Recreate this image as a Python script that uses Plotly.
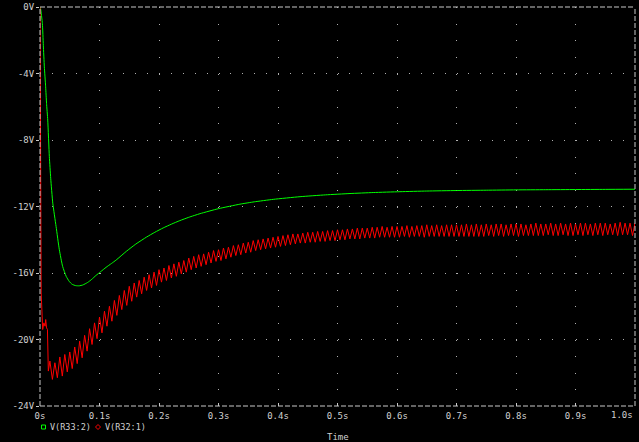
import plotly.graph_objects as go

# ---------------- data ----------------
x_tick_vals = [0, 0.1, 0.2, 0.3, 0.4, 0.5, 0.6, 0.7, 0.8, 0.9, 1.0]
x_tick_text = ["0s", "0.1s", "0.2s", "0.3s", "0.4s", "0.5s", "0.6s", "0.7s", "0.8s", "0.9s", "1.0s"]
y_tick_vals = [0, -4, -8, -12, -16, -20, -24]
y_tick_text = ["0V", "-4V", "-8V", "-12V", "-16V", "-20V", "-24V"]

series_names = ["V(R33:2)", "V(R32:1)"]

# V(R33:2) (green)
green_t = [0, 0.001, 0.004, 0.0056, 0.0073, 0.0095, 0.011, 0.013, 0.0157, 0.018, 0.0215,
           0.027, 0.0325, 0.038, 0.044, 0.049, 0.054, 0.06, 0.066, 0.072, 0.08, 0.087,
           0.094, 0.102, 0.111, 0.12, 0.128, 0.145, 0.161, 0.179, 0.193, 0.207, 0.221,
           0.235, 0.25, 0.269, 0.3, 0.336, 0.36, 0.392, 0.437, 0.48, 0.521, 0.56, 0.605,
           0.65, 0.7, 0.75, 0.8, 0.85, 0.9, 0.95, 1.0]
green_v = [0, -0.1, -1.0, -2.3, -3.6, -4.8, -5.8, -6.8, -9.0, -10.3, -11.8,
           -13.2, -14.6, -15.6, -16.2, -16.5, -16.68, -16.76, -16.77, -16.72, -16.57, -16.38,
           -16.15, -15.92, -15.66, -15.43, -15.22, -14.7, -14.26, -13.84, -13.55, -13.29, -13.06,
           -12.85, -12.65, -12.43, -12.13, -11.86, -11.72, -11.57, -11.41, -11.3, -11.22, -11.16, -11.11,
           -11.07, -11.04, -11.02, -11.0, -10.99, -10.98, -10.97, -10.96]

# V(R32:1) (red) - initial transient
red_start_t = [0, 0.0005, 0.002, 0.0045, 0.0065, 0.0085, 0.0096, 0.011, 0.0125, 0.014]
red_start_v = [0, -5.0, -17.2, -19.4, -19.0, -19.2, -18.8, -19.3, -19.4, -21.9]

# V(R32:1) ripple: peak / trough per 120 Hz cycle, starting at t = 2/120 s
red_cycle_period = 1 / 120
red_first_cycle = 2
red_peak = [
    -21.3, -21.4, -21.05, -20.9, -20.75, -20.45, -20.1, -19.75, -19.35, -19.0,
    -18.65, -18.3, -18.0, -17.65, -17.35, -17.05, -16.8, -16.6, -16.45, -16.25,
    -16.1, -15.95, -15.8, -15.7, -15.55, -15.45, -15.35, -15.25, -15.1, -15.0,
    -14.9, -14.85, -14.75, -14.65, -14.6, -14.5, -14.45, -14.35, -14.3, -14.2,
    -14.15, -14.05, -14.0, -13.95, -13.9, -13.85, -13.8, -13.75, -13.7, -13.65,
    -13.65, -13.6, -13.55, -13.55, -13.5, -13.5, -13.45, -13.45, -13.4, -13.4,
    -13.35, -13.35, -13.3, -13.3, -13.3, -13.25, -13.25, -13.2, -13.25, -13.2,
    -13.2, -13.2, -13.15, -13.2, -13.15, -13.15, -13.1, -13.15, -13.1, -13.15,
    -13.1, -13.1, -13.1, -13.1, -13.05, -13.1, -13.05, -13.1, -13.05, -13.1,
    -13.05, -13.05, -13.1, -13.05, -13.05, -13.05, -13.1, -13.05, -13.0, -13.05,
    -13.05, -13.0, -13.05, -13.0, -13.05, -13.0, -13.05, -13.0, -13.0, -13.05,
    -13.0, -13.0, -13.0, -13.05, -13.0, -12.95, -13.0, -13.0, -13.0]
red_trough = [
    -22.4, -22.3, -22.2, -21.95, -21.75, -21.45, -21.1, -20.7, -20.3, -19.95,
    -19.6, -19.2, -18.9, -18.55, -18.2, -17.95, -17.7, -17.45, -17.25, -17.05,
    -16.9, -16.75, -16.55, -16.45, -16.3, -16.2, -16.05, -15.95, -15.8, -15.7,
    -15.6, -15.5, -15.4, -15.3, -15.25, -15.15, -15.05, -14.95, -14.9, -14.8,
    -14.75, -14.65, -14.6, -14.55, -14.5, -14.45, -14.4, -14.35, -14.3, -14.25,
    -14.2, -14.2, -14.15, -14.15, -14.1, -14.1, -14.05, -14.05, -14.0, -14.0,
    -13.95, -13.95, -13.95, -13.9, -13.9, -13.9, -13.85, -13.85, -13.85, -13.85,
    -13.85, -13.8, -13.85, -13.8, -13.8, -13.85, -13.8, -13.8, -13.8, -13.8,
    -13.8, -13.8, -13.8, -13.8, -13.8, -13.8, -13.8, -13.8, -13.75, -13.8,
    -13.75, -13.8, -13.75, -13.75, -13.8, -13.75, -13.75, -13.75, -13.75, -13.75,
    -13.7, -13.75, -13.75, -13.7, -13.75, -13.75, -13.7, -13.75, -13.7, -13.75,
    -13.7, -13.75, -13.7, -13.7, -13.75, -13.7, -13.7, -13.75, -13.7]

# ---------------- build ----------------
red_t = list(red_start_t)
red_v = list(red_start_v)
for i, (hi, lo) in enumerate(zip(red_peak, red_trough)):
    t0 = (red_first_cycle + i) * red_cycle_period
    red_t += [t0, t0 + red_cycle_period / 2]
    red_v += [hi, lo]

W, H = 639, 442
L, R, T, B = 40, 4, 7, 36
PW, PH = W - L - R, H - T - B


def px(x):
    return (x - L) / PW


def py(y):
    return (H - B - y) / PH


FONT = "DejaVu Sans Mono"
TXT = "#d0d0d0"
GRID = "#b0b0b0"
FRAME = "#c8c8c8"

fig = go.Figure()
fig.add_trace(go.Scatter(x=green_t, y=green_v, mode="lines", name=series_names[0],
                         line=dict(color="#00ff00", width=1, shape="spline", smoothing=0.5),
                         showlegend=False))
fig.add_trace(go.Scatter(x=red_t, y=red_v, mode="lines", name=series_names[1],
                         line=dict(color="#ff0000", width=1), showlegend=False))

xt = list(x_tick_text)
xt[-1] = ""
fig.update_xaxes(range=[0, 1.0], tickvals=x_tick_vals, ticktext=xt,
                 showgrid=True, gridcolor=GRID, gridwidth=1, griddash="1px,15.625px",
                 zeroline=False, showline=False, ticks="inside", ticklen=3,
                 ticklabelstandoff=3,
                 tickcolor=FRAME, tickfont=dict(family=FONT, size=9, color=TXT),
                 automargin=False, fixedrange=True)
fig.update_yaxes(range=[-24, 0], tickvals=y_tick_vals, ticktext=y_tick_text,
                 showgrid=True, gridcolor=GRID, gridwidth=1, griddash="1px,10.9px",
                 zeroline=False, showline=False, ticks="outside", ticklen=3,
                 tickcolor=FRAME, tickfont=dict(family=FONT, size=9, color=TXT),
                 automargin=False, fixedrange=True)

shapes = []
for x0, y0, x1, y1 in [(0, 0, 1, 0), (0, 1, 1, 1), (0, 0, 0, 1), (1, 0, 1, 1)]:
    shapes.append(dict(type="line", xref="paper", yref="paper", x0=x0, y0=y0, x1=x1, y1=y1,
                       line=dict(color=FRAME, width=1, dash="5px,2px"), layer="above"))
# legend symbols
shapes.append(dict(type="rect", xref="paper", yref="paper",
                   x0=px(41.5), x1=px(45.5), y0=py(425), y1=py(429),
                   line=dict(color="#00ff00", width=1)))
shapes.append(dict(type="path", xref="paper", yref="paper",
                   path=f"M {px(98)} {py(424.5)} L {px(100.5)} {py(427)} L {px(98)} {py(429.5)} L {px(95.5)} {py(427)} Z",
                   line=dict(color="#ff0000", width=1)))

annotations = [
    dict(text=x_tick_text[-1], x=1.0, y=py(415), xref="paper", yref="paper",
         xanchor="right", yanchor="middle", showarrow=False,
         font=dict(family=FONT, size=9, color=TXT)),
    dict(text=series_names[0], x=px(48), y=py(427), xref="paper", yref="paper",
         xanchor="left", yanchor="middle", showarrow=False,
         font=dict(family=FONT, size=8.5, color=TXT)),
    dict(text=series_names[1], x=px(103), y=py(427), xref="paper", yref="paper",
         xanchor="left", yanchor="middle", showarrow=False,
         font=dict(family=FONT, size=8.5, color=TXT)),
    dict(text="Time", x=0.5, y=py(437), xref="paper", yref="paper",
         xanchor="center", yanchor="middle", showarrow=False,
         font=dict(family=FONT, size=9, color=TXT)),
]

fig.update_layout(width=W, height=H, margin=dict(l=L, r=R, t=T, b=B),
                  paper_bgcolor="black", plot_bgcolor="black",
                  shapes=shapes, annotations=annotations, showlegend=False)

fig.write_html("out.html", config={"displayModeBar": False},
               post_script="document.body.style.margin='0';document.body.style.overflow='hidden';document.body.style.background='black';")
